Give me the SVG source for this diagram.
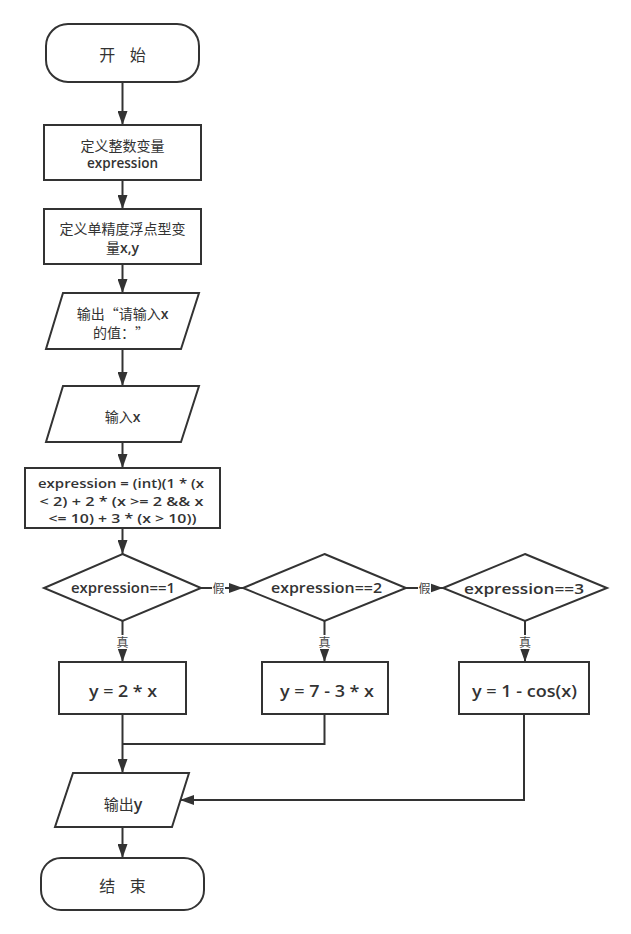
<svg xmlns="http://www.w3.org/2000/svg" width="631" height="934" viewBox="0 0 631 934">
<style>
.shape{fill:#fff;stroke:#333;stroke-width:2}
.line{fill:none;stroke:#333;stroke-width:2}
.arrow{marker-end:url(#ah)}
text{fill:#333;text-anchor:middle;font-family:"Noto Sans CJK SC","Noto Sans",sans-serif;text-spacing-trim:space-all}
.cn{font-size:14px}
.en{font-family:"Open Sans","Liberation Sans",sans-serif;font-weight:600}
.lbl{font-size:12px;fill:#444}
.lblbg{fill:#fff;stroke:none}
</style>
<defs>
<marker id="ah" markerUnits="userSpaceOnUse" markerWidth="14" markerHeight="10" refX="14" refY="5" orient="auto">
<path d="M0,0 L14,5 L0,10 Z" fill="#333"/>
</marker>
</defs>
<rect width="631" height="934" fill="#fff"/>

<g id="connectors">
<path class="line arrow" d="M122.5,82 V125"/>
<path class="line arrow" d="M122.5,180 V209"/>
<path class="line arrow" d="M122.5,264 V293"/>
<path class="line arrow" d="M122.5,349 V386"/>
<path class="line arrow" d="M122.5,442 V468"/>
<path class="line arrow" d="M122.5,528 V554"/>
<path class="line arrow" d="M201,588 H243"/>
<path class="line arrow" d="M406,588 H443"/>
<path class="line arrow" d="M122.5,621 V662"/>
<path class="line arrow" d="M324.5,621 V662"/>
<path class="line arrow" d="M525,621 V662"/>
<path class="line arrow" d="M122.5,714 V773"/>
<path class="line" d="M324.5,714 V744 H122.5"/>
<path class="line arrow" d="M524,714 V800 H180"/>
<path class="line arrow" d="M122.5,827 V858"/>
<rect class="lblbg" x="212" y="580" width="13" height="16"/>
<text class="lbl" x="218.5" y="592.5">假</text>
<rect class="lblbg" x="418" y="580" width="13" height="16"/>
<text class="lbl" x="424.5" y="592.5">假</text>
<rect class="lblbg" x="116" y="635" width="13" height="14"/>
<text class="lbl" x="122.5" y="646.5">真</text>
<rect class="lblbg" x="318" y="635" width="13" height="14"/>
<text class="lbl" x="324.5" y="646.5">真</text>
<rect class="lblbg" x="518.5" y="635" width="13" height="14"/>
<text class="lbl" x="525" y="646.5">真</text>
</g>

<g id="start">
<rect class="shape" x="46" y="24" width="153" height="58" rx="22" ry="22"/>
<text x="122.5" y="61" font-size="16" xml:space="preserve">开    始</text>
</g>

<g id="define-int">
<rect class="shape" x="44" y="125" width="157" height="55"/>
<text class="cn" x="122.5" y="151">定义整数变量</text>
<text class="en" x="122.5" y="168" font-size="13.5">expression</text>
</g>

<g id="define-float">
<rect class="shape" x="44" y="209" width="157" height="55"/>
<text class="cn" x="122.5" y="234">定义单精度浮点型变</text>
<text class="cn" x="122.5" y="253">量<tspan class="en" font-size="14">x,y</tspan></text>
</g>

<g id="output-prompt">
<polygon class="shape" points="63,293 199,293 181,349 46,349"/>
<text class="cn" x="122.5" y="319" xml:lang="zh-CN">输出“请输入<tspan class="en">x</tspan></text>
<text class="cn" x="121" y="338" xml:lang="zh-CN">的值：”</text>
</g>

<g id="input-x">
<polygon class="shape" points="63,386 199,386 181,442 46,442"/>
<text class="cn" x="122.5" y="422">输入<tspan class="en">x</tspan></text>
</g>

<g id="compute">
<rect class="shape" x="25" y="468" width="195" height="60"/>
<text class="en" x="121" y="488" font-size="13" textLength="166" lengthAdjust="spacingAndGlyphs">expression = (int)(1 * (x</text>
<text class="en" x="121.5" y="506" font-size="13" textLength="164" lengthAdjust="spacingAndGlyphs">&lt; 2) + 2 * (x &gt;= 2 &amp;&amp; x</text>
<text class="en" x="122.5" y="523" font-size="13" textLength="148" lengthAdjust="spacingAndGlyphs">&lt;= 10) + 3 * (x &gt; 10))</text>
</g>

<g id="cond1">
<polygon class="shape" points="122.5,554 201,588 122.5,621 44,588"/>
<text class="en" x="123" y="593" font-size="13.5" textLength="104" lengthAdjust="spacingAndGlyphs">expression==1</text>
</g>

<g id="cond2">
<polygon class="shape" points="324.5,554 406,588 324.5,621 243,588"/>
<text class="en" x="326.5" y="593" font-size="14" textLength="111" lengthAdjust="spacingAndGlyphs">expression==2</text>
</g>

<g id="cond3">
<polygon class="shape" points="525,554 607,588 525,621 443,588"/>
<text class="en" x="524" y="593.5" font-size="15" textLength="120" lengthAdjust="spacingAndGlyphs">expression==3</text>
</g>

<g id="assign1">
<rect class="shape" x="59" y="662" width="127" height="52"/>
<text class="en" x="123" y="696.5" font-size="16" textLength="68" lengthAdjust="spacingAndGlyphs">y = 2 * x</text>
</g>

<g id="assign2">
<rect class="shape" x="262" y="662" width="126" height="52"/>
<text class="en" x="327" y="696.5" font-size="16" textLength="94" lengthAdjust="spacingAndGlyphs">y = 7 - 3 * x</text>
</g>

<g id="assign3">
<rect class="shape" x="459" y="662" width="130" height="52"/>
<text class="en" x="524.5" y="696.5" font-size="16" textLength="105" lengthAdjust="spacingAndGlyphs">y = 1 - cos(x)</text>
</g>

<g id="output-y">
<polygon class="shape" points="73,773 189,773 172,827 55,827"/>
<text x="123" y="810" font-size="15">输出<tspan class="en" font-size="16">y</tspan></text>
</g>

<g id="end">
<rect class="shape" x="41" y="858" width="163" height="52" rx="20" ry="20"/>
<text x="122.5" y="892" font-size="16" xml:space="preserve">结    束</text>
</g>
</svg>
